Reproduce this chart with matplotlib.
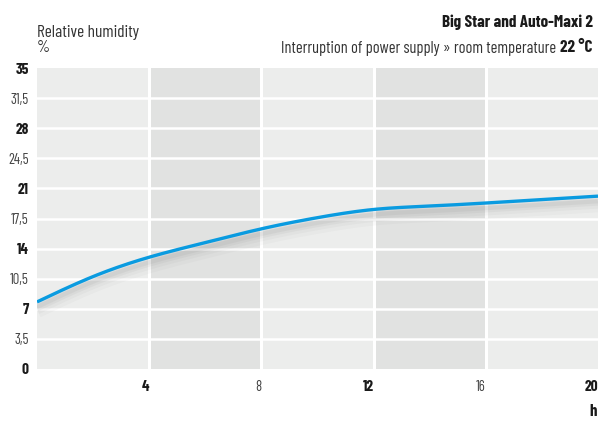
import matplotlib
matplotlib.use("Agg")
import matplotlib.pyplot as plt
import numpy as np

plt.rcParams['font.family'] = ['Barlow Condensed', 'Roboto Condensed', 'Asap Condensed', 'DejaVu Sans']

# data
hours = [0, 2, 4, 6, 8, 10, 12, 14, 16, 18, 20]
humidity = [7.8, 10.75, 13.0, 14.7, 16.3, 17.6, 18.55, 18.95, 19.3, 19.7, 20.1]

y_ticks = [0, 3.5, 7, 10.5, 14, 17.5, 21, 24.5, 28, 31.5, 35]
y_labels = ['0', '3,5', '7', '10,5', '14', '17,5', '21', '24,5', '28', '31,5', '35']
x_ticks = [4, 8, 12, 16, 20]
x_labels = ['4', '8', '12', '16', '20']
dark_bands = [(4, 8), (12, 16)]


def spline_curve(x, y, n=400):
    # natural cubic spline through the points
    x = np.asarray(x, float)
    y = np.asarray(y, float)
    N = len(x)
    h = np.diff(x)
    A = np.zeros((N, N))
    r = np.zeros(N)
    A[0, 0] = A[-1, -1] = 1
    for i in range(1, N - 1):
        A[i, i - 1] = h[i - 1]
        A[i, i] = 2 * (h[i - 1] + h[i])
        A[i, i + 1] = h[i]
        r[i] = 3 * ((y[i + 1] - y[i]) / h[i] - (y[i] - y[i - 1]) / h[i - 1])
    c = np.linalg.solve(A, r)
    b = np.diff(y) / h - h * (2 * c[:-1] + c[1:]) / 3
    d = np.diff(c) / (3 * h)
    xs = np.linspace(x[0], x[-1], n)
    k = np.clip(np.searchsorted(x, xs) - 1, 0, N - 2)
    t = xs - x[k]
    ys = y[k] + b[k] * t + c[k] * t**2 + d[k] * t**3
    return xs, ys


fig = plt.figure(figsize=(5.98, 4.21), dpi=100)
ax = fig.add_axes([37 / 598, 52 / 421, 561 / 598, 301 / 421])
ax.set_facecolor('#ecedec')
for a, b in dark_bands:
    ax.axvspan(a, b, color='#e1e2e1', lw=0, zorder=0)

ax.set_xlim(0, 20)
ax.set_ylim(0, 35)
for yv in y_ticks[1:-1]:
    ax.axhline(yv, color='white', lw=1.8, zorder=1)
for xv in x_ticks[:-1]:
    ax.axvline(xv, color='white', lw=2.2, zorder=1)

xs, ys = spline_curve(hours, humidity)

# soft shadow below the line
for w, al, off in [(12, 0.03, 0.9), (8, 0.04, 0.8), (5, 0.05, 0.7), (3, 0.06, 0.6)]:
    ax.plot(xs, ys - off, color='#505050', lw=w, alpha=al, solid_capstyle='butt', zorder=2)
ax.plot(xs, ys, color='#0a9be0', lw=2.4, zorder=3, solid_capstyle='butt')

for s in ax.spines.values():
    s.set_visible(False)
ax.tick_params(length=0)
ax.set_yticks(y_ticks)
ax.set_yticklabels(y_labels)
ax.set_xticks(x_ticks)
ax.set_xticklabels(x_labels)
for i, t in enumerate(ax.get_yticklabels()):
    t.set_fontsize(10.5)
    if i % 2 == 0:
        t.set_fontweight('bold')
        t.set_fontsize(11)
        t.set_color('#1a1a1a')
    else:
        t.set_color('#444444')
for i, t in enumerate(ax.get_xticklabels()):
    t.set_fontsize(10.5)
    t.set_ha('right')
    if i % 2 == 1:
        t.set_color('#444444')
    else:
        t.set_fontweight('bold')
        t.set_fontsize(11)
        t.set_color('#1a1a1a')
ax.tick_params(axis='x', pad=8)
ax.tick_params(axis='y', pad=6)

fig.text(37 / 598, 1 - 32 / 421, 'Relative humidity', fontsize=12.5, color='#333333', va='center')
fig.text(37 / 598, 1 - 47 / 421, '%', fontsize=12, color='#333333', va='center')
fig.text(593 / 598, 1 - 22 / 421, 'Big Star and Auto-Maxi 2', fontsize=12.3,
         fontweight='bold', color='#1a1a1a', ha='right', va='center')
bold_part = fig.text(593 / 598, 1 - 48 / 421, '22 °C', fontsize=12.3,
                     fontweight='bold', color='#1a1a1a', ha='right', va='center')
fig.canvas.draw()
bb = bold_part.get_window_extent()
fig.text((bb.x0 - 4) / 598, 1 - 48 / 421, 'Interruption of power supply » room temperature',
         fontsize=11.8, color='#333333', ha='right', va='center')
fig.text(597 / 598, 1 - 411 / 421, 'h', fontsize=12, fontweight='bold',
         color='#1a1a1a', ha='right', va='center')

fig.savefig('out.png', dpi=100)
